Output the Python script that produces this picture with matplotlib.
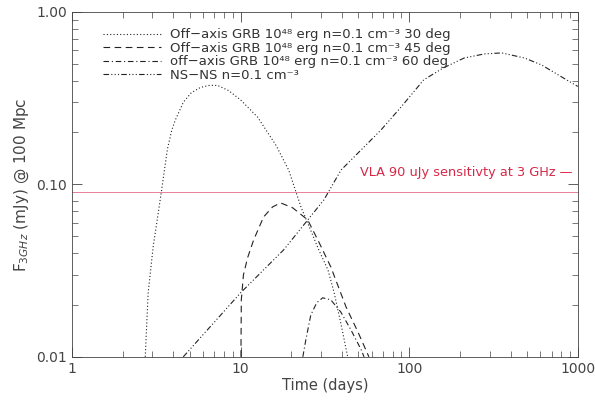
#radio light curves, off-axis GRB vs NS-NS merger
import numpy as np
from matplotlib import pyplot as plt
from matplotlib.ticker import FixedLocator, FixedFormatter, NullFormatter

# 30 deg off-axis GRB
t30 = [2.72, 2.83, 3.03, 3.39, 3.68, 3.90, 4.10, 4.58, 5.10, 5.78, 6.50, 7.30, 8.50, 10.0, 12.6, 16.2, 19.3, 22.8, 26.0, 29.1, 33.0, 35.9, 39.3, 43.2]
f30 = [0.0100, 0.0235, 0.0434, 0.0905, 0.160, 0.205, 0.236, 0.300, 0.340, 0.365, 0.375, 0.375, 0.350, 0.309, 0.246, 0.169, 0.121, 0.0741, 0.0545, 0.0417, 0.0319, 0.0235, 0.0157, 0.0100]

# 45 deg off-axis GRB
t45 = [10.05, 10.1, 10.4, 11.0, 11.96, 13.7, 15.5, 17.3, 20.4, 25.0, 29.1, 34.3, 42.2, 49.9, 57.7]
f45 = [0.0100, 0.0214, 0.0299, 0.0375, 0.0477, 0.0648, 0.0741, 0.0781, 0.0731, 0.0623, 0.0464, 0.0332, 0.0195, 0.0138, 0.0100]

# 60 deg off-axis GRB
t60 = [23.4, 24.4, 26.1, 28.3, 30.7, 34.3, 39.3, 45.2, 51.9, 54.0]
f60 = [0.0100, 0.0126, 0.0175, 0.0206, 0.0220, 0.0214, 0.0182, 0.0143, 0.0110, 0.0100]

# NS-NS merger
tns = [4.57, 10.0, 18.0, 31.2, 39.4, 68.1, 89.5, 122, 159, 212, 279, 354, 483, 610, 803, 1000]
fns = [0.0100, 0.0235, 0.0417, 0.0813, 0.121, 0.207, 0.281, 0.404, 0.473, 0.541, 0.571, 0.579, 0.541, 0.493, 0.420, 0.37]

vla = 0.09

labels = [u'Off\u2212axis GRB 10\u2074\u2078 erg n=0.1 cm\u207b\u00b3 30 deg',
          u'Off\u2212axis GRB 10\u2074\u2078 erg n=0.1 cm\u207b\u00b3 45 deg',
          u'off\u2212axis GRB 10\u2074\u2078 erg n=0.1 cm\u207b\u00b3 60 deg',
          u'NS\u2212NS n=0.1 cm\u207b\u00b3']

gray = '#444444'
fig = plt.figure(figsize=(5.95, 4.13), dpi=100)
ax = fig.add_axes([0.121, 0.136, 0.850, 0.835])

lc = '#222222'
ax.plot(t30, f30, color=lc, lw=0.8, linestyle=(0, (1, 2)), label=labels[0])
ax.plot(t45, f45, color=lc, lw=0.8, linestyle=(0, (6, 4)), label=labels[1])
ax.plot(t60, f60, color=lc, lw=0.8, linestyle=(0, (5, 2.5, 1, 2.5)), label=labels[2])
ax.plot(tns, fns, color=lc, lw=0.8, linestyle=(0, (5, 2, 1, 2, 1, 2, 1, 2)), label=labels[3])

ax.axhline(vla, color='#e88098', lw=0.7)
ax.text(0.99, 0.515, u'VLA 90 uJy sensitivty at 3 GHz \u2014', transform=ax.transAxes,
        color='#d82848', fontsize=9.3, ha='right', va='bottom')

ax.set_xscale('log')
ax.set_yscale('log')
ax.set_xlim(1, 1000)
ax.set_ylim(0.01, 1.0)

ax.xaxis.set_major_locator(FixedLocator([1, 10, 100, 1000]))
ax.xaxis.set_major_formatter(FixedFormatter(['1', '10', '100', '1000']))
ax.xaxis.set_minor_formatter(NullFormatter())
ax.yaxis.set_major_locator(FixedLocator([0.01, 0.1, 1.0]))
ax.yaxis.set_major_formatter(FixedFormatter(['0.01', '0.10', '1.00']))
ax.yaxis.set_minor_formatter(NullFormatter())

ax.tick_params(which='both', direction='in', top=True, right=True, colors=gray,
               labelcolor=gray, labelsize=10)
ax.tick_params(which='major', length=7, width=0.6)
ax.tick_params(which='minor', length=4, width=0.5)
for s in ax.spines.values():
    s.set_color(gray)
    s.set_linewidth(0.6)

ax.set_xlabel('Time (days)', color=gray, fontsize=10.5, labelpad=2)
ax.set_ylabel(r'F$_{3GHz}$ (mJy) @ 100 Mpc', color=gray, fontsize=11)

leg = ax.legend(loc='upper left', bbox_to_anchor=(0.05, 0.968), frameon=False,
                fontsize=9.5, handlelength=4.4, handletextpad=0.7, labelspacing=0.04,
                borderaxespad=0)
for txt in leg.get_texts():
    txt.set_color('#333333')

fig.savefig('out.png', dpi=100)
